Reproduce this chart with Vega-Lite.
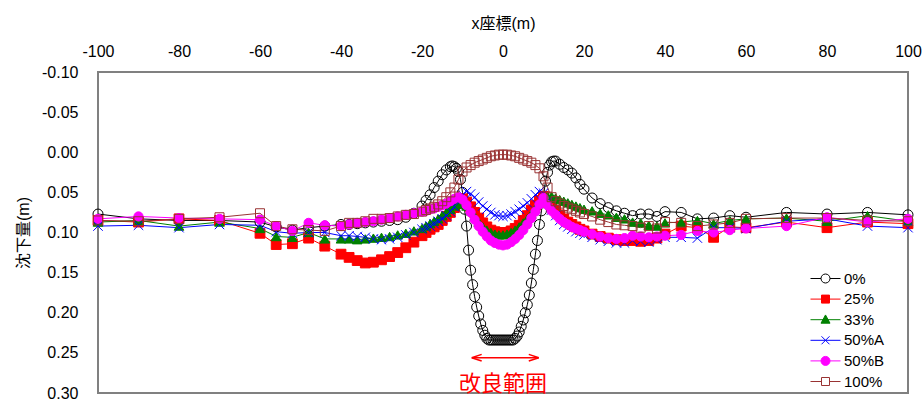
{
  "$schema": "https://vega.github.io/schema/vega-lite/v6.json",
  "width": 810,
  "height": 321,
  "autosize": "none",
  "padding": {"left": 98, "top": 72, "right": 16, "bottom": 6},
  "background": "white",
  "config": {
    "font": "Liberation Sans, Noto Sans CJK JP",
    "view": {"stroke": "#808080", "strokeWidth": 2},
    "axis": {"labelFont": "Liberation Sans", "labelFontSize": 16, "labelColor": "#000000", "titleFont": "Liberation Sans, Noto Sans CJK JP", "titleFontSize": 16, "titleFontWeight": "normal", "titleColor": "#000000", "ticks": false, "domain": false, "grid": false, "labelFlush": false, "labelOverlap": false}
  },
  "datasets": {
    "d": [
      {"s":"0%","x":-100,"y":0.077},{"s":"0%","x":-90,"y":0.083},{"s":"0%","x":-80,"y":0.085},{"s":"0%","x":-70,"y":0.085},{"s":"0%","x":-60,"y":0.087},{"s":"0%","x":-56,"y":0.093},{"s":"0%","x":-52,"y":0.097},{"s":"0%","x":-48,"y":0.094},{"s":"0%","x":-44,"y":0.092},{"s":"0%","x":-40,"y":0.090},{"s":"0%","x":-38,"y":0.090},{"s":"0%","x":-36,"y":0.089},{"s":"0%","x":-34,"y":0.088},{"s":"0%","x":-32,"y":0.087},{"s":"0%","x":-30,"y":0.086},{"s":"0%","x":-28,"y":0.085},{"s":"0%","x":-26,"y":0.084},{"s":"0%","x":-24,"y":0.081},{"s":"0%","x":-22,"y":0.076},{"s":"0%","x":-20,"y":0.067},{"s":"0%","x":-19,"y":0.060},{"s":"0%","x":-18,"y":0.053},{"s":"0%","x":-17,"y":0.044},{"s":"0%","x":-16,"y":0.036},{"s":"0%","x":-15,"y":0.028},{"s":"0%","x":-14,"y":0.022},{"s":"0%","x":-13,"y":0.018},{"s":"0%","x":-12.5,"y":0.017},{"s":"0%","x":-12,"y":0.018},{"s":"0%","x":-11.5,"y":0.020},{"s":"0%","x":-11,"y":0.024},{"s":"0%","x":-10.5,"y":0.034},{"s":"0%","x":-10,"y":0.050},{"s":"0%","x":-9.5,"y":0.071},{"s":"0%","x":-9,"y":0.092},{"s":"0%","x":-8.5,"y":0.122},{"s":"0%","x":-8,"y":0.147},{"s":"0%","x":-7.5,"y":0.165},{"s":"0%","x":-7,"y":0.180},{"s":"0%","x":-6.5,"y":0.193},{"s":"0%","x":-6,"y":0.204},{"s":"0%","x":-5.5,"y":0.214},{"s":"0%","x":-5,"y":0.222},{"s":"0%","x":-4.5,"y":0.228},{"s":"0%","x":-4,"y":0.232},{"s":"0%","x":-3.5,"y":0.234},{"s":"0%","x":-3,"y":0.234},{"s":"0%","x":-2.5,"y":0.234},{"s":"0%","x":-2,"y":0.234},{"s":"0%","x":-1.5,"y":0.234},{"s":"0%","x":-1,"y":0.234},{"s":"0%","x":-0.5,"y":0.234},{"s":"0%","x":0,"y":0.234},{"s":"0%","x":0.5,"y":0.234},{"s":"0%","x":1,"y":0.234},{"s":"0%","x":1.5,"y":0.234},{"s":"0%","x":2,"y":0.234},{"s":"0%","x":2.5,"y":0.234},{"s":"0%","x":3,"y":0.232},{"s":"0%","x":3.5,"y":0.229},{"s":"0%","x":4,"y":0.224},{"s":"0%","x":4.5,"y":0.217},{"s":"0%","x":5,"y":0.209},{"s":"0%","x":5.5,"y":0.200},{"s":"0%","x":6,"y":0.190},{"s":"0%","x":6.5,"y":0.178},{"s":"0%","x":7,"y":0.163},{"s":"0%","x":7.5,"y":0.146},{"s":"0%","x":8,"y":0.127},{"s":"0%","x":8.5,"y":0.110},{"s":"0%","x":9,"y":0.090},{"s":"0%","x":9.5,"y":0.073},{"s":"0%","x":10,"y":0.055},{"s":"0%","x":10.5,"y":0.036},{"s":"0%","x":11,"y":0.025},{"s":"0%","x":11.5,"y":0.016},{"s":"0%","x":12,"y":0.012},{"s":"0%","x":12.5,"y":0.011},{"s":"0%","x":13,"y":0.011},{"s":"0%","x":14,"y":0.015},{"s":"0%","x":15,"y":0.019},{"s":"0%","x":16,"y":0.022},{"s":"0%","x":17,"y":0.026},{"s":"0%","x":18,"y":0.032},{"s":"0%","x":19,"y":0.040},{"s":"0%","x":20,"y":0.046},{"s":"0%","x":22,"y":0.057},{"s":"0%","x":24,"y":0.064},{"s":"0%","x":26,"y":0.069},{"s":"0%","x":28,"y":0.073},{"s":"0%","x":30,"y":0.076},{"s":"0%","x":32,"y":0.079},{"s":"0%","x":34,"y":0.077},{"s":"0%","x":36,"y":0.077},{"s":"0%","x":38,"y":0.080},{"s":"0%","x":40,"y":0.074},{"s":"0%","x":44,"y":0.075},{"s":"0%","x":48,"y":0.083},{"s":"0%","x":52,"y":0.082},{"s":"0%","x":56,"y":0.079},{"s":"0%","x":60,"y":0.081},{"s":"0%","x":70,"y":0.075},{"s":"0%","x":80,"y":0.077},{"s":"0%","x":90,"y":0.075},{"s":"0%","x":100,"y":0.078},

      {"s":"25%","x":-100,"y":0.085},{"s":"25%","x":-90,"y":0.087},{"s":"25%","x":-80,"y":0.083},{"s":"25%","x":-70,"y":0.085},{"s":"25%","x":-60,"y":0.101},{"s":"25%","x":-56,"y":0.115},{"s":"25%","x":-52,"y":0.114},{"s":"25%","x":-48,"y":0.107},{"s":"25%","x":-44,"y":0.117},{"s":"25%","x":-40,"y":0.127},{"s":"25%","x":-38,"y":0.131},{"s":"25%","x":-36,"y":0.135},{"s":"25%","x":-34,"y":0.138},{"s":"25%","x":-32,"y":0.137},{"s":"25%","x":-30,"y":0.134},{"s":"25%","x":-28,"y":0.130},{"s":"25%","x":-26,"y":0.125},{"s":"25%","x":-24,"y":0.119},{"s":"25%","x":-22,"y":0.112},{"s":"25%","x":-20,"y":0.104},{"s":"25%","x":-19,"y":0.100},{"s":"25%","x":-18,"y":0.096},{"s":"25%","x":-17,"y":0.093},{"s":"25%","x":-16,"y":0.090},{"s":"25%","x":-15,"y":0.085},{"s":"25%","x":-14,"y":0.080},{"s":"25%","x":-13,"y":0.075},{"s":"25%","x":-12,"y":0.069},{"s":"25%","x":-11,"y":0.063},{"s":"25%","x":-10,"y":0.058},{"s":"25%","x":-9,"y":0.062},{"s":"25%","x":-8,"y":0.068},{"s":"25%","x":-7,"y":0.075},{"s":"25%","x":-6,"y":0.082},{"s":"25%","x":-5,"y":0.088},{"s":"25%","x":-4,"y":0.093},{"s":"25%","x":-3,"y":0.097},{"s":"25%","x":-2,"y":0.099},{"s":"25%","x":-1,"y":0.100},{"s":"25%","x":0,"y":0.100},{"s":"25%","x":1,"y":0.100},{"s":"25%","x":2,"y":0.098},{"s":"25%","x":3,"y":0.095},{"s":"25%","x":4,"y":0.091},{"s":"25%","x":5,"y":0.085},{"s":"25%","x":6,"y":0.079},{"s":"25%","x":7,"y":0.072},{"s":"25%","x":8,"y":0.066},{"s":"25%","x":9,"y":0.060},{"s":"25%","x":10,"y":0.055},{"s":"25%","x":11,"y":0.060},{"s":"25%","x":12,"y":0.066},{"s":"25%","x":13,"y":0.072},{"s":"25%","x":14,"y":0.078},{"s":"25%","x":15,"y":0.083},{"s":"25%","x":16,"y":0.087},{"s":"25%","x":17,"y":0.090},{"s":"25%","x":18,"y":0.093},{"s":"25%","x":19,"y":0.096},{"s":"25%","x":20,"y":0.098},{"s":"25%","x":22,"y":0.102},{"s":"25%","x":24,"y":0.105},{"s":"25%","x":26,"y":0.107},{"s":"25%","x":28,"y":0.109},{"s":"25%","x":30,"y":0.110},{"s":"25%","x":32,"y":0.110},{"s":"25%","x":34,"y":0.111},{"s":"25%","x":36,"y":0.110},{"s":"25%","x":38,"y":0.107},{"s":"25%","x":40,"y":0.102},{"s":"25%","x":44,"y":0.092},{"s":"25%","x":48,"y":0.094},{"s":"25%","x":52,"y":0.106},{"s":"25%","x":56,"y":0.093},{"s":"25%","x":60,"y":0.094},{"s":"25%","x":70,"y":0.087},{"s":"25%","x":80,"y":0.094},{"s":"25%","x":90,"y":0.087},{"s":"25%","x":100,"y":0.089},

      {"s":"33%","x":-100,"y":0.087},{"s":"33%","x":-90,"y":0.085},{"s":"33%","x":-80,"y":0.092},{"s":"33%","x":-70,"y":0.087},{"s":"33%","x":-60,"y":0.095},{"s":"33%","x":-56,"y":0.105},{"s":"33%","x":-52,"y":0.106},{"s":"33%","x":-48,"y":0.100},{"s":"33%","x":-44,"y":0.108},{"s":"33%","x":-40,"y":0.108},{"s":"33%","x":-38,"y":0.108},{"s":"33%","x":-36,"y":0.109},{"s":"33%","x":-34,"y":0.108},{"s":"33%","x":-32,"y":0.107},{"s":"33%","x":-30,"y":0.106},{"s":"33%","x":-28,"y":0.105},{"s":"33%","x":-26,"y":0.103},{"s":"33%","x":-24,"y":0.101},{"s":"33%","x":-22,"y":0.098},{"s":"33%","x":-20,"y":0.095},{"s":"33%","x":-19,"y":0.092},{"s":"33%","x":-18,"y":0.089},{"s":"33%","x":-17,"y":0.086},{"s":"33%","x":-16,"y":0.083},{"s":"33%","x":-15,"y":0.079},{"s":"33%","x":-14,"y":0.075},{"s":"33%","x":-13,"y":0.071},{"s":"33%","x":-12,"y":0.067},{"s":"33%","x":-11,"y":0.065},{"s":"33%","x":-10,"y":0.063},{"s":"33%","x":-9,"y":0.067},{"s":"33%","x":-8,"y":0.073},{"s":"33%","x":-7,"y":0.080},{"s":"33%","x":-6,"y":0.087},{"s":"33%","x":-5,"y":0.093},{"s":"33%","x":-4,"y":0.097},{"s":"33%","x":-3,"y":0.100},{"s":"33%","x":-2,"y":0.102},{"s":"33%","x":-1,"y":0.103},{"s":"33%","x":0,"y":0.103},{"s":"33%","x":1,"y":0.102},{"s":"33%","x":2,"y":0.100},{"s":"33%","x":3,"y":0.097},{"s":"33%","x":4,"y":0.093},{"s":"33%","x":5,"y":0.088},{"s":"33%","x":6,"y":0.083},{"s":"33%","x":7,"y":0.077},{"s":"33%","x":8,"y":0.070},{"s":"33%","x":9,"y":0.064},{"s":"33%","x":10,"y":0.058},{"s":"33%","x":11,"y":0.055},{"s":"33%","x":12,"y":0.055},{"s":"33%","x":13,"y":0.057},{"s":"33%","x":14,"y":0.059},{"s":"33%","x":15,"y":0.061},{"s":"33%","x":16,"y":0.063},{"s":"33%","x":17,"y":0.065},{"s":"33%","x":18,"y":0.067},{"s":"33%","x":19,"y":0.069},{"s":"33%","x":20,"y":0.071},{"s":"33%","x":22,"y":0.073},{"s":"33%","x":24,"y":0.076},{"s":"33%","x":26,"y":0.078},{"s":"33%","x":28,"y":0.081},{"s":"33%","x":30,"y":0.083},{"s":"33%","x":32,"y":0.087},{"s":"33%","x":34,"y":0.088},{"s":"33%","x":36,"y":0.091},{"s":"33%","x":38,"y":0.092},{"s":"33%","x":40,"y":0.088},{"s":"33%","x":44,"y":0.087},{"s":"33%","x":48,"y":0.085},{"s":"33%","x":52,"y":0.089},{"s":"33%","x":56,"y":0.085},{"s":"33%","x":60,"y":0.083},{"s":"33%","x":70,"y":0.082},{"s":"33%","x":80,"y":0.086},{"s":"33%","x":90,"y":0.079},{"s":"33%","x":100,"y":0.086},

      {"s":"50%A","x":-100,"y":0.092},{"s":"50%A","x":-90,"y":0.091},{"s":"50%A","x":-80,"y":0.094},{"s":"50%A","x":-70,"y":0.090},{"s":"50%A","x":-60,"y":0.091},{"s":"50%A","x":-56,"y":0.099},{"s":"50%A","x":-52,"y":0.101},{"s":"50%A","x":-48,"y":0.100},{"s":"50%A","x":-44,"y":0.100},{"s":"50%A","x":-40,"y":0.104},{"s":"50%A","x":-38,"y":0.104},{"s":"50%A","x":-36,"y":0.105},{"s":"50%A","x":-34,"y":0.106},{"s":"50%A","x":-32,"y":0.108},{"s":"50%A","x":-30,"y":0.109},{"s":"50%A","x":-28,"y":0.108},{"s":"50%A","x":-26,"y":0.106},{"s":"50%A","x":-24,"y":0.103},{"s":"50%A","x":-22,"y":0.100},{"s":"50%A","x":-20,"y":0.096},{"s":"50%A","x":-19,"y":0.094},{"s":"50%A","x":-18,"y":0.092},{"s":"50%A","x":-17,"y":0.089},{"s":"50%A","x":-16,"y":0.086},{"s":"50%A","x":-15,"y":0.083},{"s":"50%A","x":-14,"y":0.079},{"s":"50%A","x":-13,"y":0.074},{"s":"50%A","x":-12,"y":0.068},{"s":"50%A","x":-11,"y":0.060},{"s":"50%A","x":-10,"y":0.053},{"s":"50%A","x":-9,"y":0.049},{"s":"50%A","x":-8,"y":0.052},{"s":"50%A","x":-7,"y":0.056},{"s":"50%A","x":-6,"y":0.062},{"s":"50%A","x":-5,"y":0.067},{"s":"50%A","x":-4,"y":0.071},{"s":"50%A","x":-3,"y":0.075},{"s":"50%A","x":-2,"y":0.078},{"s":"50%A","x":-1,"y":0.079},{"s":"50%A","x":0,"y":0.080},{"s":"50%A","x":1,"y":0.079},{"s":"50%A","x":2,"y":0.077},{"s":"50%A","x":3,"y":0.074},{"s":"50%A","x":4,"y":0.071},{"s":"50%A","x":5,"y":0.067},{"s":"50%A","x":6,"y":0.063},{"s":"50%A","x":7,"y":0.058},{"s":"50%A","x":8,"y":0.053},{"s":"50%A","x":9,"y":0.049},{"s":"50%A","x":10,"y":0.051},{"s":"50%A","x":11,"y":0.062},{"s":"50%A","x":12,"y":0.072},{"s":"50%A","x":13,"y":0.079},{"s":"50%A","x":14,"y":0.085},{"s":"50%A","x":15,"y":0.090},{"s":"50%A","x":16,"y":0.093},{"s":"50%A","x":17,"y":0.096},{"s":"50%A","x":18,"y":0.099},{"s":"50%A","x":19,"y":0.101},{"s":"50%A","x":20,"y":0.103},{"s":"50%A","x":22,"y":0.106},{"s":"50%A","x":24,"y":0.109},{"s":"50%A","x":26,"y":0.111},{"s":"50%A","x":28,"y":0.113},{"s":"50%A","x":30,"y":0.113},{"s":"50%A","x":32,"y":0.110},{"s":"50%A","x":34,"y":0.111},{"s":"50%A","x":36,"y":0.112},{"s":"50%A","x":38,"y":0.109},{"s":"50%A","x":40,"y":0.106},{"s":"50%A","x":44,"y":0.106},{"s":"50%A","x":48,"y":0.107},{"s":"50%A","x":52,"y":0.094},{"s":"50%A","x":56,"y":0.094},{"s":"50%A","x":60,"y":0.095},{"s":"50%A","x":70,"y":0.086},{"s":"50%A","x":80,"y":0.083},{"s":"50%A","x":90,"y":0.092},{"s":"50%A","x":100,"y":0.094},

      {"s":"50%B","x":-100,"y":0.083},{"s":"50%B","x":-90,"y":0.080},{"s":"50%B","x":-80,"y":0.082},{"s":"50%B","x":-70,"y":0.083},{"s":"50%B","x":-60,"y":0.084},{"s":"50%B","x":-56,"y":0.092},{"s":"50%B","x":-52,"y":0.098},{"s":"50%B","x":-48,"y":0.088},{"s":"50%B","x":-44,"y":0.091},{"s":"50%B","x":-40,"y":0.092},{"s":"50%B","x":-38,"y":0.090},{"s":"50%B","x":-36,"y":0.088},{"s":"50%B","x":-34,"y":0.087},{"s":"50%B","x":-32,"y":0.086},{"s":"50%B","x":-30,"y":0.084},{"s":"50%B","x":-28,"y":0.082},{"s":"50%B","x":-26,"y":0.080},{"s":"50%B","x":-24,"y":0.078},{"s":"50%B","x":-22,"y":0.076},{"s":"50%B","x":-20,"y":0.074},{"s":"50%B","x":-19,"y":0.073},{"s":"50%B","x":-18,"y":0.071},{"s":"50%B","x":-17,"y":0.070},{"s":"50%B","x":-16,"y":0.068},{"s":"50%B","x":-15,"y":0.066},{"s":"50%B","x":-14,"y":0.064},{"s":"50%B","x":-13,"y":0.061},{"s":"50%B","x":-12,"y":0.058},{"s":"50%B","x":-11,"y":0.056},{"s":"50%B","x":-10,"y":0.059},{"s":"50%B","x":-9,"y":0.066},{"s":"50%B","x":-8,"y":0.075},{"s":"50%B","x":-7,"y":0.084},{"s":"50%B","x":-6,"y":0.092},{"s":"50%B","x":-5,"y":0.099},{"s":"50%B","x":-4,"y":0.105},{"s":"50%B","x":-3,"y":0.110},{"s":"50%B","x":-2,"y":0.113},{"s":"50%B","x":-1,"y":0.115},{"s":"50%B","x":0,"y":0.116},{"s":"50%B","x":1,"y":0.115},{"s":"50%B","x":2,"y":0.112},{"s":"50%B","x":3,"y":0.108},{"s":"50%B","x":4,"y":0.103},{"s":"50%B","x":5,"y":0.097},{"s":"50%B","x":6,"y":0.090},{"s":"50%B","x":7,"y":0.082},{"s":"50%B","x":8,"y":0.074},{"s":"50%B","x":9,"y":0.065},{"s":"50%B","x":10,"y":0.057},{"s":"50%B","x":11,"y":0.066},{"s":"50%B","x":12,"y":0.073},{"s":"50%B","x":13,"y":0.078},{"s":"50%B","x":14,"y":0.083},{"s":"50%B","x":15,"y":0.087},{"s":"50%B","x":16,"y":0.090},{"s":"50%B","x":17,"y":0.093},{"s":"50%B","x":18,"y":0.095},{"s":"50%B","x":19,"y":0.097},{"s":"50%B","x":20,"y":0.099},{"s":"50%B","x":22,"y":0.102},{"s":"50%B","x":24,"y":0.105},{"s":"50%B","x":26,"y":0.107},{"s":"50%B","x":28,"y":0.108},{"s":"50%B","x":30,"y":0.107},{"s":"50%B","x":32,"y":0.104},{"s":"50%B","x":34,"y":0.105},{"s":"50%B","x":36,"y":0.106},{"s":"50%B","x":38,"y":0.105},{"s":"50%B","x":40,"y":0.104},{"s":"50%B","x":44,"y":0.103},{"s":"50%B","x":48,"y":0.098},{"s":"50%B","x":52,"y":0.100},{"s":"50%B","x":56,"y":0.097},{"s":"50%B","x":60,"y":0.095},{"s":"50%B","x":70,"y":0.092},{"s":"50%B","x":80,"y":0.081},{"s":"50%B","x":90,"y":0.087},{"s":"50%B","x":100,"y":0.083},

      {"s":"100%","x":-100,"y":0.085},{"s":"100%","x":-90,"y":0.086},{"s":"100%","x":-80,"y":0.083},{"s":"100%","x":-70,"y":0.081},{"s":"100%","x":-60,"y":0.076},{"s":"100%","x":-56,"y":0.092},{"s":"100%","x":-52,"y":0.096},{"s":"100%","x":-48,"y":0.097},{"s":"100%","x":-44,"y":0.098},{"s":"100%","x":-40,"y":0.092},{"s":"100%","x":-38,"y":0.088},{"s":"100%","x":-36,"y":0.088},{"s":"100%","x":-34,"y":0.086},{"s":"100%","x":-32,"y":0.083},{"s":"100%","x":-30,"y":0.083},{"s":"100%","x":-28,"y":0.082},{"s":"100%","x":-26,"y":0.080},{"s":"100%","x":-24,"y":0.078},{"s":"100%","x":-22,"y":0.077},{"s":"100%","x":-20,"y":0.074},{"s":"100%","x":-19,"y":0.072},{"s":"100%","x":-18,"y":0.070},{"s":"100%","x":-17,"y":0.068},{"s":"100%","x":-16,"y":0.065},{"s":"100%","x":-15,"y":0.061},{"s":"100%","x":-14,"y":0.056},{"s":"100%","x":-13,"y":0.050},{"s":"100%","x":-12,"y":0.044},{"s":"100%","x":-11,"y":0.034},{"s":"100%","x":-10,"y":0.024},{"s":"100%","x":-9,"y":0.019},{"s":"100%","x":-8,"y":0.016},{"s":"100%","x":-7,"y":0.013},{"s":"100%","x":-6,"y":0.011},{"s":"100%","x":-5,"y":0.009},{"s":"100%","x":-4,"y":0.007},{"s":"100%","x":-3,"y":0.005},{"s":"100%","x":-2,"y":0.004},{"s":"100%","x":-1,"y":0.003},{"s":"100%","x":0,"y":0.003},{"s":"100%","x":1,"y":0.003},{"s":"100%","x":2,"y":0.004},{"s":"100%","x":3,"y":0.005},{"s":"100%","x":4,"y":0.007},{"s":"100%","x":5,"y":0.009},{"s":"100%","x":6,"y":0.011},{"s":"100%","x":7,"y":0.013},{"s":"100%","x":8,"y":0.016},{"s":"100%","x":9,"y":0.020},{"s":"100%","x":10,"y":0.030},{"s":"100%","x":11,"y":0.044},{"s":"100%","x":12,"y":0.056},{"s":"100%","x":13,"y":0.061},{"s":"100%","x":14,"y":0.064},{"s":"100%","x":15,"y":0.067},{"s":"100%","x":16,"y":0.069},{"s":"100%","x":17,"y":0.071},{"s":"100%","x":18,"y":0.073},{"s":"100%","x":19,"y":0.075},{"s":"100%","x":20,"y":0.077},{"s":"100%","x":22,"y":0.080},{"s":"100%","x":24,"y":0.084},{"s":"100%","x":26,"y":0.087},{"s":"100%","x":28,"y":0.090},{"s":"100%","x":30,"y":0.091},{"s":"100%","x":32,"y":0.092},{"s":"100%","x":34,"y":0.094},{"s":"100%","x":36,"y":0.092},{"s":"100%","x":38,"y":0.095},{"s":"100%","x":40,"y":0.087},{"s":"100%","x":44,"y":0.088},{"s":"100%","x":48,"y":0.092},{"s":"100%","x":52,"y":0.090},{"s":"100%","x":56,"y":0.088},{"s":"100%","x":60,"y":0.083},{"s":"100%","x":70,"y":0.082},{"s":"100%","x":80,"y":0.082},{"s":"100%","x":90,"y":0.085},{"s":"100%","x":100,"y":0.086}
    ]
  },
  "encoding": {
    "x": {"field": "x", "type": "quantitative", "title": "x座標(m)",
      "scale": {"domain": [-100, 100], "nice": false, "zero": false},
      "axis": {"orient": "top", "values": [-100,-80,-60,-40,-20,0,20,40,60,80,100], "labelPadding": 13, "titlePadding": 12, "labelExpr": "replace(format(datum.value, 'd'), '−', '-')"}},
    "y": {"field": "y", "type": "quantitative", "title": "沈下量(m)",
      "scale": {"domain": [-0.1, 0.3], "nice": false, "zero": false, "reverse": true},
      "axis": {"orient": "left", "values": [-0.1,-0.05,0,0.05,0.1,0.15,0.2,0.25,0.3], "labelPadding": 20, "titlePadding": 10, "labelExpr": "replace(format(datum.value, '.2f'), '−', '-')"}}
  },
  "resolve": {"scale": {"shape": "independent", "stroke": "independent", "fill": "independent", "size": "independent", "color": "independent"}},
  "layer": [
    {"data": {"values": [{"v": 0}]}, "mark": {"type": "rule", "color": "#808080", "strokeWidth": 2},
     "encoding": {"x": {"datum": -100}, "x2": {"datum": 100}, "y": {"datum": 0}}},
    {"data": {"values": [{"v": 0}]}, "mark": {"type": "rule", "color": "#808080", "strokeWidth": 2},
     "encoding": {"x": {"datum": 0}, "y": {"datum": -0.1}, "y2": {"datum": 0.3}}},
    {"data": {"values": [{"x":-100},{"x":-80},{"x":-60},{"x":-40},{"x":-20},{"x":20},{"x":40},{"x":60},{"x":80},{"x":100}]},
     "mark": {"type": "point", "shape": "M0,-1V1", "size": 144, "filled": false, "color": "#333333", "strokeWidth": 1, "opacity": 1},
     "encoding": {"y": {"datum": 0}}},
    {"data": {"values": [{"y":-0.1},{"y":-0.05},{"y":0.05},{"y":0.1},{"y":0.15},{"y":0.2},{"y":0.25},{"y":0.3}]},
     "mark": {"type": "point", "shape": "M-1,0H1", "size": 144, "filled": false, "color": "#333333", "strokeWidth": 1, "opacity": 1},
     "encoding": {"x": {"datum": 0}}},
    {"data": {"name": "d"}, "mark": {"type": "line", "strokeWidth": 1},
     "encoding": {
       "color": {"field": "s", "type": "nominal", "legend": null,
         "scale": {"domain": ["0%","25%","33%","50%A","50%B","100%"], "range": ["#000000","#FF0000","#008000","#0000FF","#FF00FF","#993333"]}}
     }},
    {"data": {"name": "d"}, "mark": {"type": "point", "strokeWidth": 1, "opacity": 1},
     "encoding": {
       "shape": {"field": "s", "type": "nominal", "legend": null,
         "scale": {"domain": ["0%","25%","33%","50%A","50%B","100%"], "range": ["circle","square","triangle-up","M-1,-1L1,1M-1,1L1,-1","circle","square"]}},
       "stroke": {"field": "s", "type": "nominal", "legend": null,
         "scale": {"domain": ["0%","25%","33%","50%A","50%B","100%"], "range": ["#000000","#FF0000","#008000","#0000FF","#FF00FF","#993333"]}},
       "fill": {"field": "s", "type": "nominal", "legend": null,
         "scale": {"domain": ["0%","25%","33%","50%A","50%B","100%"], "range": ["transparent","#FF0000","#008000","transparent","#FF00FF","transparent"]}},
       "size": {"field": "s", "type": "nominal", "legend": null,
         "scale": {"domain": ["0%","25%","33%","50%A","50%B","100%"], "range": [100, 81, 90, 81, 121, 81]}}
     }},
    {"data": {"values": [{"series": "0%"},{"series": "25%"},{"series": "33%"},{"series": "50%A"},{"series": "50%B"},{"series": "100%"}]},
     "mark": {"type": "point", "size": 100, "strokeWidth": 1, "opacity": 1},
     "encoding": {
       "shape": {"field": "series", "type": "nominal", "title": null,
         "scale": {"domain": ["0%","25%","33%","50%A","50%B","100%"], "range": ["M-3,0H-0.9M0.9,0H3M-0.9,0A0.9,0.9,0,1,1,0.9,0A0.9,0.9,0,1,1,-0.9,0Z","M-3,0H3M-0.8,-0.8H0.8V0.8H-0.8Z","M-3,0H3M0,-0.95L0.9,0.7H-0.9Z","M-3,0H3M-0.8,-0.8L0.8,0.8M-0.8,0.8L0.8,-0.8","M-3,0H3M-0.9,0A0.9,0.9,0,1,1,0.9,0A0.9,0.9,0,1,1,-0.9,0Z","M-3,0H-0.8M0.8,0H3M-0.8,-0.8H0.8V0.8H-0.8Z"]},
         "legend": {"orient": "none", "legendX": 720, "legendY": 199, "padding": 0, "labelOffset": 11, "labelFontSize": 15, "labelFont": "Liberation Sans", "labelColor": "#000000", "rowPadding": 4.6, "symbolOpacity": 1, "symbolStrokeWidth": 1, "symbolSize": 100}},
       "stroke": {"field": "series", "type": "nominal", "title": null,
         "scale": {"domain": ["0%","25%","33%","50%A","50%B","100%"], "range": ["#000000","#FF0000","#008000","#0000FF","#FF00FF","#993333"]}},
       "fill": {"field": "series", "type": "nominal", "title": null,
         "scale": {"domain": ["0%","25%","33%","50%A","50%B","100%"], "range": ["#FFFFFF","#FF0000","#008000","transparent","#FF00FF","#FFFFFF"]}}
     }},
    {"data": {"values": [{"x": -10}]}, "mark": {"type": "rule", "color": "#FF0000", "strokeWidth": 1, "strokeDash": [2, 2]},
     "encoding": {"y": {"datum": -0.1}, "y2": {"datum": 0.3}}},
    {"data": {"values": [{"x": 10}]}, "mark": {"type": "rule", "color": "#FF0000", "strokeWidth": 2, "strokeDash": [2, 2]},
     "encoding": {"y": {"datum": -0.1}, "y2": {"datum": 0.3}}},
    {"data": {"values": [{"x": 100}]}, "mark": {"type": "rule", "color": "#000000", "strokeWidth": 1},
     "encoding": {"y": {"datum": -0.1}, "y2": {"datum": 0.3}}},
    {"data": {"values": [{"x": -7.7, "x2": 8.8, "y": 0.256}]}, "mark": {"type": "rule", "color": "#FF0000", "strokeWidth": 1.5},
     "encoding": {"x2": {"field": "x2"}}},
    {"data": {"values": [{"x": -6.5, "y": 0.256}]}, "mark": {"type": "point", "shape": "M-1,0L1,-0.67M-1,0L1,0.67", "size": 100, "filled": false, "color": "#FF0000", "strokeWidth": 1.5, "opacity": 1}},
    {"data": {"values": [{"x": 7.6, "y": 0.256}]}, "mark": {"type": "point", "shape": "M1,0L-1,-0.67M1,0L-1,0.67", "size": 100, "filled": false, "color": "#FF0000", "strokeWidth": 1.5, "opacity": 1}},
    {"data": {"values": [{"x": 0, "y": 0.289, "t": "改良範囲"}]}, "mark": {"type": "text", "font": "Noto Sans CJK JP", "fontSize": 22, "color": "#FF0000", "baseline": "middle", "align": "center"},
     "encoding": {"text": {"field": "t"}}}
  ]
}
